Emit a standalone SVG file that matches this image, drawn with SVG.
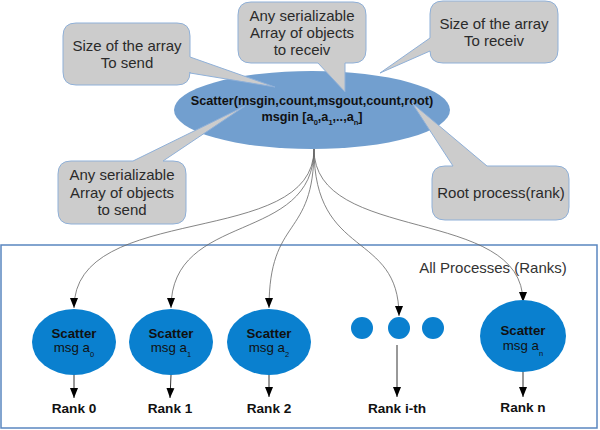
<svg xmlns="http://www.w3.org/2000/svg" width="600" height="430" viewBox="0 0 600 430">
<style>
text{font-family:"Liberation Sans",Arial,sans-serif;}
.call{fill:#cccccc;stroke:#8fb0d8;stroke-width:1;}
.ct{font-size:15px;fill:#2a2a2a;text-anchor:middle;}
.rank{fill:#0a80cf;}
.st{font-size:13.3px;font-weight:bold;fill:#111111;text-anchor:middle;}
.mt{font-size:13.3px;fill:#111111;text-anchor:middle;}
.sub{font-size:7.5px;}
.lbl{font-size:13.6px;font-weight:bold;fill:#111111;text-anchor:middle;}
.curve{fill:none;stroke:#666666;stroke-width:0.8;}
.down{fill:none;stroke:#333333;stroke-width:1;}
</style>
<defs>
<marker id="ah" markerUnits="userSpaceOnUse" markerWidth="10" markerHeight="9" viewBox="0 0 10 8" refX="10" refY="4" orient="auto">
<path d="M0,0 L10,4 L0,8 z" fill="#000000"/>
</marker>
</defs>

<g id="container">
<rect x="1" y="245" width="596" height="183" fill="#ffffff" stroke="#5a86c0" stroke-width="1.5"/>
<text x="493" y="273" style="font-size:15px;fill:#333333;text-anchor:middle">All Processes (Ranks)</text>
</g>

<g id="connectors">
<path class="curve" d="M314,149 C314,250 74,200 74,308" marker-end="url(#ah)"/>
<path class="curve" d="M314,149 C314,245 171,210 171,308" marker-end="url(#ah)"/>
<path class="curve" d="M314,149 C314,240 269,215 269,308" marker-end="url(#ah)"/>
<path class="curve" d="M314,149 C314,260 399,230 399,316" marker-end="url(#ah)"/>
<path class="curve" d="M314,149 C314,245 523,205 523,302" marker-end="url(#ah)"/>
<path class="down" d="M74,375 L74,398" marker-end="url(#ah)"/>
<path class="down" d="M171,375 L170,398" marker-end="url(#ah)"/>
<path class="down" d="M269,375 L269,397" marker-end="url(#ah)"/>
<path class="down" d="M397,345 L397,397" marker-end="url(#ah)"/>
<path class="down" d="M523,372 L523,397" marker-end="url(#ah)"/>
</g>

<g id="scatter-root">
<ellipse cx="312" cy="110" rx="138" ry="39" fill="#729fcf"/>
<text x="312" y="105" style="font-size:12.7px;font-weight:bold;fill:#111111;text-anchor:middle">Scatter(msgin,count,msgout,count,root)</text>
<text x="312" y="121" style="font-size:12.7px;font-weight:bold;fill:#111111;text-anchor:middle">msgin [a<tspan class="sub" dy="4">0</tspan><tspan dy="-4">,a</tspan><tspan class="sub" dy="4">1</tspan><tspan dy="-4">,..,a</tspan><tspan class="sub" dy="4">n</tspan><tspan dy="-4">]</tspan></text>
</g>

<g id="callout-size-send">
<path class="call" d="M76,23 H177 Q190,23 190,36 V57 L275,87 L190,73 V72 Q190,85 177,85 H76 Q63,85 63,72 V36 Q63,23 76,23 Z"/>
<text class="ct" x="127" y="51">Size of the array</text>
<text class="ct" x="127" y="68">To send</text>
</g>

<g id="callout-array-receive">
<path class="call" d="M251,2 H353 Q366,2 366,15 V50 Q366,63 353,63 H345 L345,92 L318,63 H251 Q238,63 238,50 V15 Q238,2 251,2 Z"/>
<text class="ct" x="302" y="21">Any serializable</text>
<text class="ct" x="302" y="38">Array of objects</text>
<text class="ct" x="302" y="55">to receiv</text>
</g>

<g id="callout-size-receive">
<path class="call" d="M443,1 H545 Q558,1 558,14 V50 Q558,63 545,63 H443 Q430,63 430,51 L380,73 L430,38 V14 Q430,1 443,1 Z"/>
<text class="ct" x="494" y="29">Size of the array</text>
<text class="ct" x="494" y="46">To receiv</text>
</g>

<g id="callout-array-send">
<path class="call" d="M71,161 H133 L245,106 L163,161 H173 Q186,161 186,174 V211 Q186,224 173,224 H71 Q58,224 58,211 V174 Q58,161 71,161 Z"/>
<text class="ct" x="122" y="180">Any serializable</text>
<text class="ct" x="122" y="198">Array of objects</text>
<text class="ct" x="122" y="215">to send</text>
</g>

<g id="callout-root">
<path class="call" d="M445,166 H453 L412,103 L487,166 H556 Q569,166 569,179 V207 Q569,220 556,220 H445 Q432,220 432,207 V179 Q432,166 445,166 Z"/>
<text class="ct" x="501" y="198">Root process(rank)</text>
</g>

<g id="rank0">
<ellipse class="rank" cx="74" cy="342" rx="42" ry="33"/>
<text class="st" x="74" y="338">Scatter</text>
<text class="mt" x="74" y="352">msg a<tspan class="sub" dy="5">0</tspan></text>
<text class="lbl" x="74" y="413">Rank 0</text>
</g>

<g id="rank1">
<ellipse class="rank" cx="171" cy="342" rx="42" ry="33"/>
<text class="st" x="171" y="338">Scatter</text>
<text class="mt" x="171" y="352">msg a<tspan class="sub" dy="5">1</tspan></text>
<text class="lbl" x="170" y="413">Rank 1</text>
</g>

<g id="rank2">
<ellipse class="rank" cx="269" cy="342" rx="42" ry="33"/>
<text class="st" x="269" y="338">Scatter</text>
<text class="mt" x="269" y="352">msg a<tspan class="sub" dy="5">2</tspan></text>
<text class="lbl" x="269" y="413">Rank 2</text>
</g>

<g id="rank-ith">
<circle class="rank" cx="362" cy="328" r="11"/>
<circle class="rank" cx="399" cy="328" r="11"/>
<circle class="rank" cx="433" cy="328" r="11"/>
<text class="lbl" x="397" y="413">Rank i-th</text>
</g>

<g id="rankn">
<ellipse class="rank" cx="523" cy="336" rx="43" ry="36"/>
<text class="st" x="523" y="335">Scatter</text>
<text class="mt" x="523" y="350">msg a<tspan class="sub" dy="6">n</tspan></text>
<text class="lbl" x="523" y="412">Rank n</text>
</g>
</svg>
